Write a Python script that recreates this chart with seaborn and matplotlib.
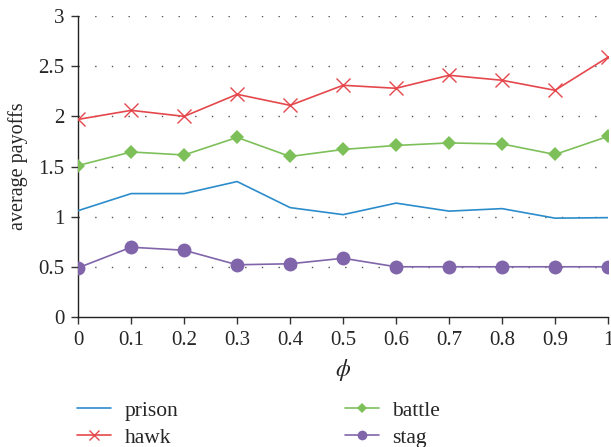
import numpy as np
import pandas as pd
import matplotlib
matplotlib.use("Agg")
import matplotlib.pyplot as plt
from matplotlib.lines import Line2D
import seaborn as sns

phi = [0, 0.1, 0.2, 0.3, 0.4, 0.5, 0.6, 0.7, 0.8, 0.9, 1.0]
prison = [1.06, 1.23, 1.23, 1.35, 1.09, 1.02, 1.135, 1.055, 1.08, 0.985, 0.99]
hawk = [1.97, 2.06, 2.00, 2.22, 2.11, 2.31, 2.28, 2.41, 2.36, 2.26, 2.59]
battle = [1.51, 1.645, 1.615, 1.79, 1.60, 1.67, 1.71, 1.735, 1.725, 1.62, 1.80]
stag = [0.49, 0.695, 0.665, 0.52, 0.53, 0.585, 0.50, 0.50, 0.50, 0.50, 0.50]

series_names = ["prison", "hawk", "battle", "stag"]
x_ticks = [0, 0.1, 0.2, 0.3, 0.4, 0.5, 0.6, 0.7, 0.8, 0.9, 1]
x_labels = ["0", "0.1", "0.2", "0.3", "0.4", "0.5", "0.6", "0.7", "0.8", "0.9", "1"]
y_ticks = [0, 0.5, 1, 1.5, 2, 2.5, 3]
y_labels = ["0", "0.5", "1", "1.5", "2", "2.5", "3"]

df = pd.DataFrame({
    "phi": phi * 4,
    "payoff": prison + hawk + battle + stag,
    "game": sum([[n] * len(phi) for n in series_names], []),
})

sns.set_theme(style="white")
plt.rcParams["font.family"] = ["Liberation Serif", "DejaVu Serif"]
plt.rcParams["mathtext.fontset"] = "stix"

palette = {"prison": "#2b8ccc", "hawk": "#e5484c", "battle": "#7dc05a", "stag": "#8165ab"}
markers = {"prison": None, "hawk": "x", "battle": "D", "stag": "o"}
msize = {"prison": 0, "hawk": 9.5, "battle": 7.5, "stag": 10}
legend_msize = {"prison": 0, "hawk": 6.5, "battle": 5, "stag": 7}

fig = plt.figure(figsize=(6.11, 4.47), dpi=100)
ax = fig.add_axes([0.128, 0.291, 0.867, 0.673])

for name in series_names:
    sub = df[df["game"] == name]
    sns.lineplot(data=sub, x="phi", y="payoff", ax=ax, color=palette[name],
                 marker=markers[name], markersize=msize[name],
                 markeredgecolor=palette[name],
                 markeredgewidth=1.0 if name == "hawk" else 0,
                 linewidth=1.2, legend=False, zorder=3)

for yv in y_ticks[1:]:
    ax.axhline(yv, color="#555555", linewidth=1.0, linestyle=(0, (1, 11)), zorder=0)

ax.set_xlim(0, 1)
ax.set_ylim(0, 3)
ax.set_xticks(x_ticks)
ax.set_xticklabels(x_labels)
ax.set_yticks(y_ticks)
ax.set_yticklabels(y_labels)
ax.tick_params(axis="both", labelsize=15, length=5, width=1, direction="out",
               color="#333333", bottom=True, left=True, pad=5)
ax.set_xlabel(r"$\phi$", fontsize=17, labelpad=5)
ax.set_ylabel("average payoffs", fontsize=14.5, labelpad=7)
for s in ["top", "right"]:
    ax.spines[s].set_visible(False)
for s in ["left", "bottom"]:
    ax.spines[s].set_color("#222222")
    ax.spines[s].set_linewidth(1.0)

handles = [
    Line2D([], [], color=palette[n], linewidth=1.2, marker=markers[n],
           markersize=legend_msize[n], markeredgecolor=palette[n],
           markeredgewidth=1.0 if n == "hawk" else 0)
    for n in series_names
]
fig.legend(handles, series_names, ncol=2, loc="upper left",
           bbox_to_anchor=(0.126, 0.103), frameon=False, fontsize=15.5,
           handlelength=1.58, columnspacing=7.7, labelspacing=0.32,
           handletextpad=0.65, borderaxespad=0, borderpad=0)

fig.savefig("out.png", dpi=100)
